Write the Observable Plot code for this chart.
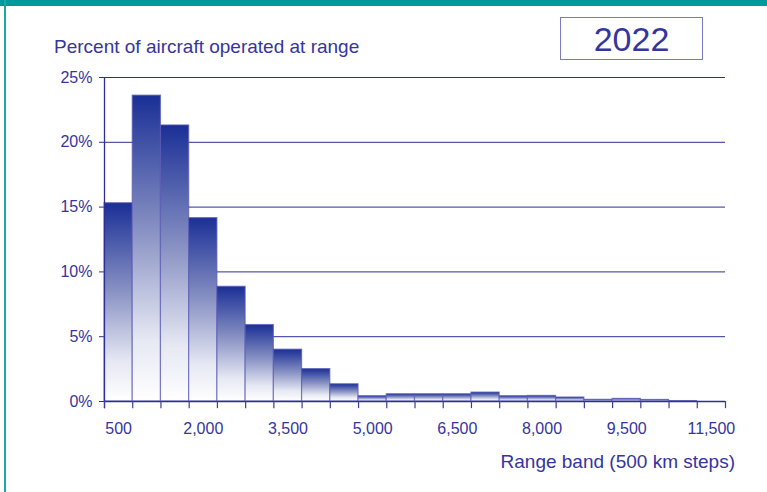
<!DOCTYPE html>
<html>
<head>
<meta charset="utf-8">
<script src="https://cdn.jsdelivr.net/npm/d3@7"></script>
<script src="https://cdn.jsdelivr.net/npm/@observablehq/plot@0.6"></script>
<style>
  html, body { margin: 0; padding: 0; background: #fff; }
  #wrap { position: relative; width: 767px; height: 492px; overflow: hidden; font-family: "Liberation Sans", Arial, sans-serif; color: #3535a0; }
  #topbar { position: absolute; left: 0; top: 0; width: 767px; height: 6px; background: #009999; }
  #leftbar { position: absolute; left: 4px; top: 0; width: 1.5px; height: 492px; background: #1aa9a0; }
  #title { position: absolute; left: 54px; top: 35px; font-size: 19px; line-height: 24px; white-space: nowrap; }
  #yearbox { position: absolute; left: 560px; top: 17px; width: 141px; height: 41px; border: 1.5px solid #7a7ac4; box-sizing: content-box; text-align: center; font-size: 34px; line-height: 43px; }
  #xtitle { position: absolute; right: 32px; top: 450px; font-size: 19px; line-height: 24px; white-space: nowrap; }
  #chart { position: absolute; left: 0; top: 0; }
</style>
</head>
<body>
<div id="wrap">
  <div id="chart"></div>
  <div id="topbar"></div>
  <div id="leftbar"></div>
  <div id="title">Percent of aircraft operated at range</div>
  <div id="yearbox">2022</div>
  <div id="xtitle">Range band (500 km steps)</div>
</div>
<script>
// Range band labels (one per bar, 500 km steps as printed)
const bandLabels = ["500","1,000","1,500","2,000","2,500","3,000","3,500","4,000","4,500","5,000","5,500",
                    "6,000","6,500","7,000","7,500","8,000","8,500","9,000","9,500","10,000","10,500","11,500"];
// Percent of aircraft operated in each band
const percentValues = [15.3, 23.6, 21.3, 14.15, 8.85, 5.9, 4.0, 2.5, 1.33, 0.41, 0.56,
                       0.56, 0.56, 0.69, 0.41, 0.43, 0.31, 0.13, 0.2, 0.12, 0.03, 0];
// Tick labels shown on the x axis
const xTickLabels = ["500","2,000","3,500","5,000","6,500","8,000","9,500","11,500"];
// Y tick values
const yTicks = [0, 5, 10, 15, 20, 25];

const bars = bandLabels.map((label, i) => ({i, label, value: percentValues[i]}));
const labelData = bars.filter(d => xTickLabels.includes(d.label));
const ink = "#3535a0";

const svg = Plot.plot({
  width: 767,
  height: 492,
  marginLeft: 104,
  marginRight: 42,
  marginTop: 77,
  marginBottom: 91,
  style: {fontFamily: "Liberation Sans, Arial, sans-serif", fontSize: "16px", color: ink, background: "transparent"},
  x: {type: "linear", domain: [0, bandLabels.length], axis: null},
  y: {domain: [0, 25], ticks: yTicks, tickFormat: d => d + "%", tickSize: 5, tickPadding: 7, label: null},
  marks: [
    Plot.ruleY(yTicks.filter(d => d > 0), {stroke: "#2e2e96", strokeWidth: 1}),
    Plot.rectY(bars, {x1: d => d.i, x2: d => d.i + 1, y: "value", fill: "#1c3297", stroke: "#5a5ab4", strokeWidth: 1.2, strokeOpacity: 0.7}),
    Plot.ruleY([0], {stroke: "#2e2e96", strokeWidth: 1.3}),
    Plot.ruleX([0], {y1: -0.55, y2: 25, stroke: "#2e2e96", strokeWidth: 1.3}),
    Plot.ruleX(d3.range(bandLabels.length + 1), {y1: -0.55, y2: 0, stroke: "#3c3ca2", strokeWidth: 1.2}),
    Plot.text(labelData, {x: d => d.i + 0.5, y: 0, dy: 27, text: "label", fill: ink, fontSize: 16})
  ]
});

// vertical gradient fill on bars (dark blue top to white bottom)
const defs = d3.select(svg).insert("defs", ":first-child");
const grad = defs.append("linearGradient").attr("id", "barGrad")
  .attr("x1", 0).attr("y1", 0).attr("x2", 0).attr("y2", 1);
grad.append("stop").attr("offset", "0%").attr("stop-color", "#1a2f96");
grad.append("stop").attr("offset", "45%").attr("stop-color", "#8a93c4");
grad.append("stop").attr("offset", "80%").attr("stop-color", "#e6e8f3");
grad.append("stop").attr("offset", "100%").attr("stop-color", "#ffffff");
d3.select(svg).selectAll('g[aria-label="rect"] rect').attr("fill", "url(#barGrad)");
d3.select(svg).selectAll('g[aria-label="y-axis tick label"] text, g[aria-label="y-axis"] text').attr("fill", ink);
d3.select(svg).selectAll('g[aria-label="y-axis tick"] path, g[aria-label="y-axis"] path').attr("stroke", "#2e2e96");

document.getElementById("chart").appendChild(svg);
</script>
</body>
</html>
